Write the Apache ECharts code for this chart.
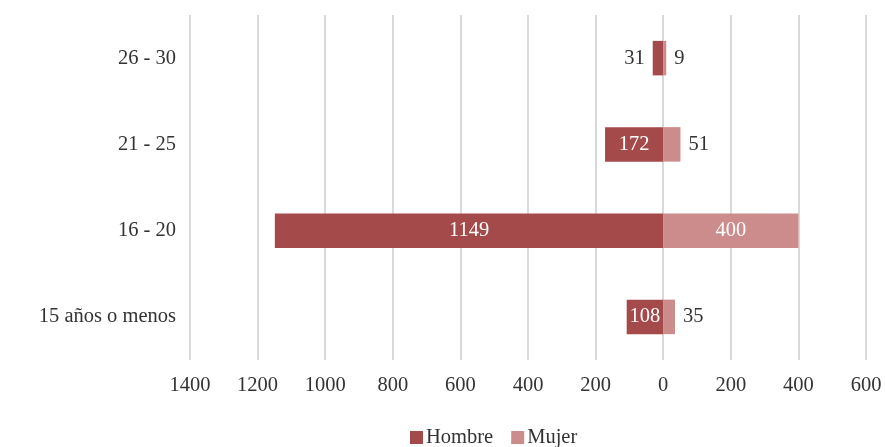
<!DOCTYPE html>
<html><head><meta charset="utf-8">
<script src="https://cdn.jsdelivr.net/npm/echarts@6/dist/echarts.min.js"></script>
<style>html,body{margin:0;padding:0;background:#fff}#c{width:885px;height:447px}</style>
</head><body><div id="c"></div>
<script>
const categories = ['15 años o menos', '16 - 20', '21 - 25', '26 - 30'];
const hombre = [108, 1149, 172, 31];
const mujer = [35, 400, 51, 9];
const tickMin = -1400, tickMax = 600, tickStep = 200;

const font = 'Liberation Serif';
const textColor = '#333';
const fs = 20.5;
const chart = echarts.init(document.getElementById('c'));

function lbl(v, inside, side) {
  return inside
    ? { show: true, position: 'inside', color: '#fff', fontFamily: font, fontSize: fs }
    : { show: true, position: side, color: textColor, fontFamily: font, fontSize: fs, distance: 8 };
}

chart.setOption({
  animation: false,
  grid: { left: 190, right: 19, top: 15, bottom: 87, containLabel: false },
  legend: {
    top: 427, left: 405, itemWidth: 13, itemHeight: 13, itemGap: 18, padding: [0, 5],
    icon: 'rect',
    textStyle: { fontFamily: font, fontSize: fs, color: textColor, padding: [0, 0, 0, -2] },
    data: ['Hombre', 'Mujer']
  },
  xAxis: {
    type: 'value', min: tickMin, max: tickMax, interval: tickStep,
    axisLine: { show: false }, axisTick: { show: false },
    splitLine: { lineStyle: { color: '#d9d9d9', width: 2 } },
    axisLabel: { fontFamily: font, fontSize: fs, color: textColor, margin: 15,
      formatter: v => String(Math.abs(v)) }
  },
  yAxis: {
    type: 'category', data: categories,
    axisLine: { show: false }, axisTick: { show: false },
    axisLabel: { fontFamily: font, fontSize: fs, color: textColor, margin: 14 }
  },
  series: [
    {
      name: 'Hombre', type: 'bar', stack: 'a', barWidth: '40%',
      itemStyle: { color: '#A44A4A' },
      data: hombre.map(v => ({ value: -v, label: lbl(v, v >= 100, 'left') })),
      label: { formatter: p => String(Math.abs(p.value)) }
    },
    {
      name: 'Mujer', type: 'bar', stack: 'a', barWidth: '40%',
      itemStyle: { color: '#CC8C8C' },
      data: mujer.map(v => ({ value: v, label: lbl(v, v >= 100, 'right') })),
      label: { formatter: p => String(Math.abs(p.value)) }
    }
  ]
});
</script></body></html>
